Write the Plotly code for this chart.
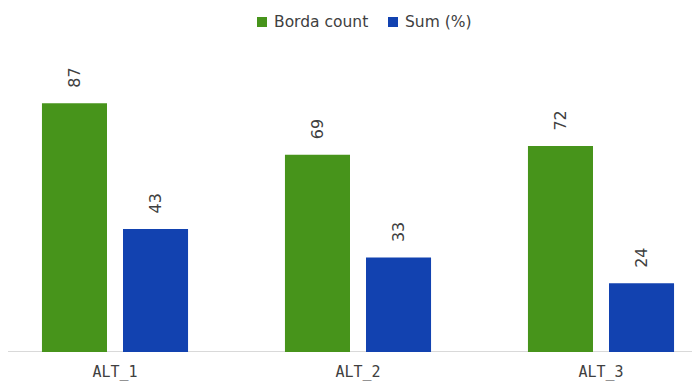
import plotly.graph_objects as go

categories = ["ALT_1", "ALT_2", "ALT_3"]
series_names = ["Borda count", "Sum (%)"]
borda = [87, 69, 72]
sum_pct = [43, 33, 24]

green = "#47941b"
blue = "#1242b0"
txt = "#404040"

W, H = 700, 383
OFF = 8  # default page body margin offset
T, B = 66 - OFF, 383 - (352 - OFF)
PH = H - T - B

fig = go.Figure()
for name, vals, col in [(series_names[0], borda, green), (series_names[1], sum_pct, blue)]:
    fig.add_trace(go.Bar(
        x=categories, y=vals, name=name,
        marker=dict(color=col, line=dict(width=0)),
        showlegend=False,
    ))

# value labels (rotated) above bars
for vals, xs in [(borda, -40.5), (sum_pct, 40.5)]:
    for c, v in zip(categories, vals):
        fig.add_annotation(x=c, y=v, text=str(v), showarrow=False, textangle=-90,
                           xshift=xs, yshift=13, yanchor="bottom", xanchor="center",
                           font=dict(size=16, color=txt, family="DejaVu Sans"))

# manual legend
def px_x(p):
    return (p - OFF) / W

def px_y(p):
    return ((H - B) - (p - OFF)) / PH

for name, col, sq_x, tx in [(series_names[0], green, 257, 272), (series_names[1], blue, 388, 403)]:
    fig.add_shape(type="rect", xref="paper", yref="paper",
                  x0=px_x(sq_x), x1=px_x(sq_x + 10), y0=px_y(27), y1=px_y(17),
                  fillcolor=col, line=dict(width=0))
    fig.add_annotation(xref="paper", yref="paper", x=px_x(tx), y=px_y(22),
                       text=name, showarrow=False, xanchor="left", yanchor="middle",
                       font=dict(size=15.5, color=txt, family="DejaVu Sans"))

scale = 243.0
r0 = -(115.0 - OFF) / scale
r1 = r0 + W / scale

fig.update_layout(
    width=W, height=H,
    margin=dict(l=0, r=0, t=T, b=B, autoexpand=False),
    paper_bgcolor="white", plot_bgcolor="white",
    barmode="group", bargap=0.333, bargroupgap=0.1975,
    showlegend=False,
    xaxis=dict(range=[r0, r1], showline=False, showgrid=False, zeroline=False,
               ticks="", ticklabelstandoff=9, automargin=False,
               tickfont=dict(size=15, family="DejaVu Sans Mono", color=txt)),
    yaxis=dict(range=[0, 100], visible=False, showgrid=False, automargin=False),
)
fig.add_shape(type="line", xref="paper", yref="y", x0=0, x1=1.02, y0=0, y1=0,
              line=dict(color="#d9d9d9", width=2), layer="below")
fig.write_html("out.html")
